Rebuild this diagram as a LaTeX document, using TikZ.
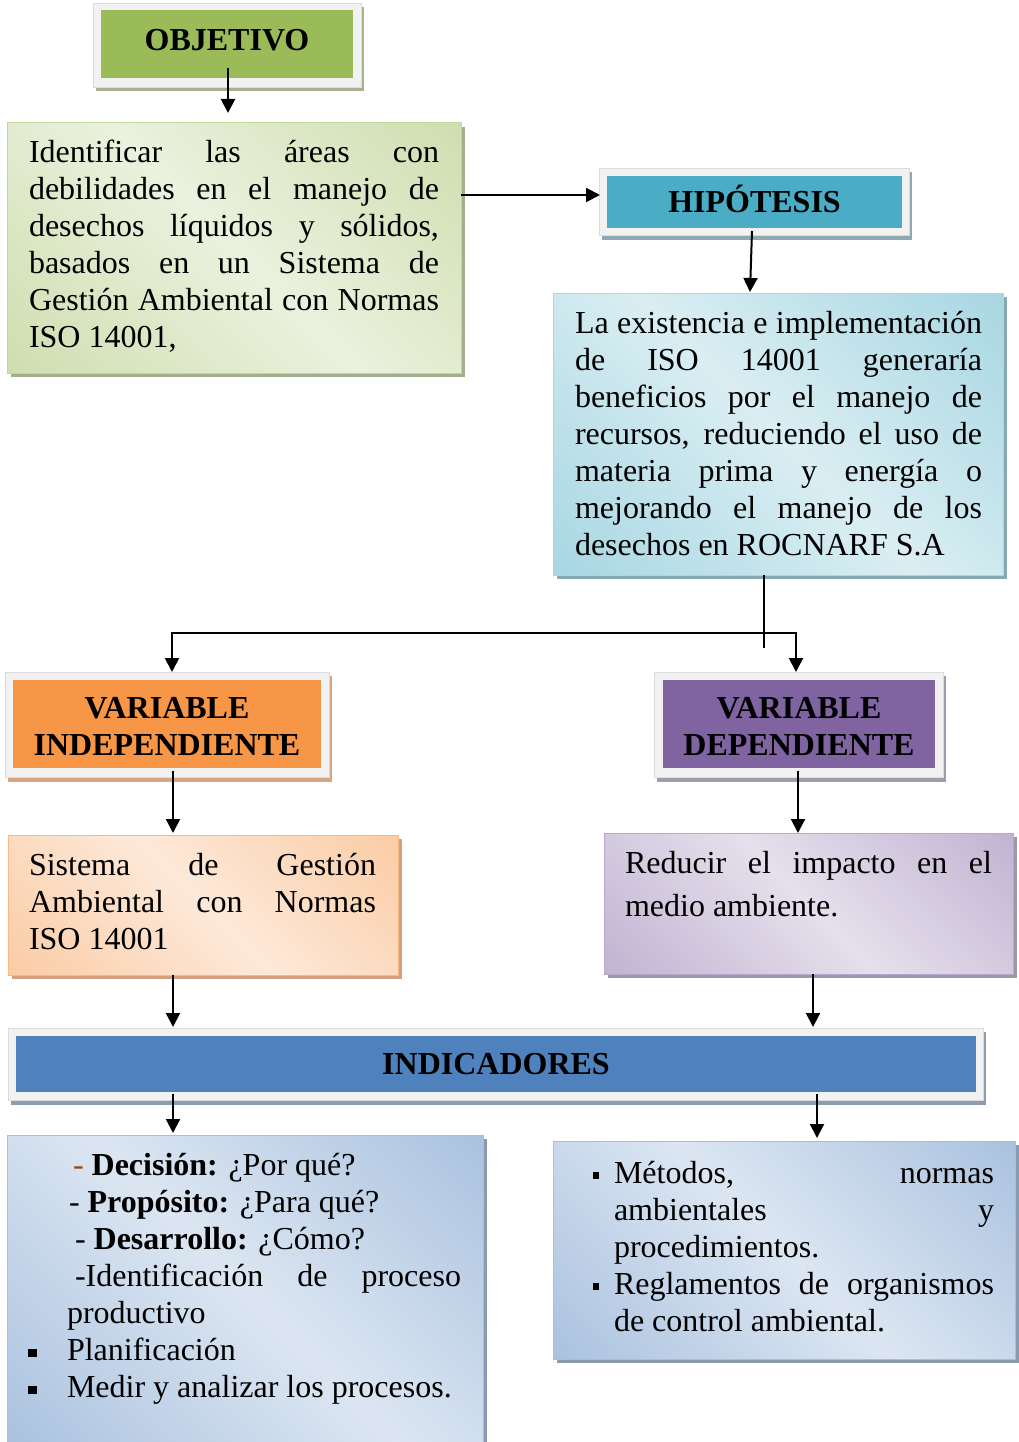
\documentclass[tikz,border=0pt]{standalone}
\usepackage{fontspec}
\setmainfont{Liberation Serif}
\usetikzlibrary{arrows.meta,shadows,calc}
\setlength\parindent{0pt}
\setlength\parskip{0pt}

\definecolor{framefill}{HTML}{F2F2F2}
\definecolor{framedraw}{HTML}{DCDCDC}
\definecolor{hgreen}{HTML}{9BBB59}
\definecolor{hgreensh}{HTML}{A7B38F}
\definecolor{gdk}{HTML}{C3D69B}
\definecolor{glt}{HTML}{EBF1DE}
\definecolor{gborder}{HTML}{C3D69B}
\definecolor{gshadow}{HTML}{A1AF8D}
\definecolor{hblue}{HTML}{4BACC6}
\definecolor{hbluesh}{HTML}{8EA9B2}
\definecolor{bdk}{HTML}{92CDDC}
\definecolor{blt}{HTML}{DAEEF3}
\definecolor{bborder}{HTML}{A9D7E3}
\definecolor{bshadow}{HTML}{86A9B3}
\definecolor{horange}{HTML}{F79646}
\definecolor{horangesh}{HTML}{D6A685}
\definecolor{odk}{HTML}{FAC090}
\definecolor{olt}{HTML}{FDE9D9}
\definecolor{oborder}{HTML}{F9B880}
\definecolor{oshadow}{HTML}{D4A17F}
\definecolor{hpurple}{HTML}{8064A2}
\definecolor{hpurplesh}{HTML}{A19CAD}
\definecolor{pdk}{HTML}{B2A1C7}
\definecolor{plt}{HTML}{E5E0EC}
\definecolor{pborder}{HTML}{B8A8CB}
\definecolor{pshadow}{HTML}{9E97A9}
\definecolor{hind}{HTML}{4F81BD}
\definecolor{hindsh}{HTML}{8D9CB1}
\definecolor{idk}{HTML}{95B3D7}
\definecolor{ilt}{HTML}{DCE6F2}
\definecolor{iborder}{HTML}{A5BFDD}
\definecolor{ishadow}{HTML}{8A9AB0}
\definecolor{dashbrown}{HTML}{984806}

\pgfdeclarehorizontalshading{shgreen}{100bp}{color(0bp)=(gdk); color(50bp)=(glt); color(100bp)=(gdk)}
\pgfdeclarehorizontalshading{shblue}{100bp}{color(0bp)=(bdk); color(50bp)=(blt); color(100bp)=(bdk)}
\pgfdeclarehorizontalshading{shorange}{100bp}{color(0bp)=(odk); color(50bp)=(olt); color(100bp)=(odk)}
\pgfdeclarehorizontalshading{shpurple}{100bp}{color(0bp)=(pdk); color(50bp)=(plt); color(100bp)=(pdk)}
\pgfdeclarehorizontalshading{shind}{100bp}{color(0bp)=(idk); color(50bp)=(ilt); color(100bp)=(idk)}

\newcommand\bodyfont{\fontsize{32}{37}\selectfont}
\newcommand\nsp{\spaceskip=0pt\xspaceskip=0pt\hyphenpenalty=10000\relax}
\newcommand\jl[1]{\makebox[\hsize][s]{#1}}
\newcommand\sqbul{\rule[3pt]{9pt}{8pt}}
\newcommand\smbul{\rule[4pt]{6pt}{7pt}}

\begin{document}
\begin{tikzpicture}[x=1pt,y=-1pt,
  head/.style={rectangle, inner sep=0pt, outer sep=0pt, align=center,
    font=\fontsize{32}{37}\selectfont\bfseries},
  tbox/.style={rectangle, inner sep=0pt, outer sep=0pt, line width=1pt, shade, shading angle=45},
  txt/.style={anchor=north west, inner sep=0pt, outer sep=0pt, align=left, font=\bodyfont},
  frame/.style={fill=framefill, draw=framedraw, line width=0.6pt},
  arr/.style={line width=2pt, -{Triangle[width=14pt,length=14pt]}},
  plain/.style={line width=2pt},
  shad/.style={drop shadow={shadow xshift=4pt,shadow yshift=-4pt,fill=#1,opacity=1}}
]
\useasboundingbox (0,0) rectangle (1019,1442);
\fill[white] (0,0) rectangle (1019,1442);

% heading frames
\fill[hgreensh] (96,7) rectangle (364,91);
\filldraw[frame] (93,3) rectangle (361,87);
\fill[hbluesh] (602,172) rectangle (912,240);
\filldraw[frame] (599,168) rectangle (909,235);
\fill[horangesh] (8,676) rectangle (332,782);
\filldraw[frame] (5,672) rectangle (329,777);
\fill[hpurplesh] (657,676) rectangle (946,782);
\filldraw[frame] (654,672) rectangle (943,777);
\fill[hindsh] (11,1032) rectangle (986,1105);
\filldraw[frame] (8,1028) rectangle (983,1100);

% heading nodes
\node[head, fill=hgreen, minimum width=252pt, minimum height=68pt, text height=21pt, text depth=7pt] (obj) at (227,44) {OBJETIVO};
\node[head, fill=hblue, minimum width=295pt, minimum height=52pt, text height=21pt, text depth=0pt] (hip) at (754.5,202) {HIPÓTESIS};
\node[head, fill=horange, minimum width=308pt, minimum height=88pt] (vi) at (167,724) {\rule{0pt}{27pt}VARIABLE\\INDEPENDIENTE};
\node[head, fill=hpurple, minimum width=272pt, minimum height=88pt] (vd) at (799,724) {\rule{0pt}{27pt}VARIABLE\\DEPENDIENTE};
\node[head, fill=hind, minimum width=960pt, minimum height=56pt] (ind) at (496,1064) {INDICADORES};

% text boxes
\node[tbox, shading=shgreen, draw=gborder, shad=gshadow, minimum width=454pt, minimum height=250pt] (objt) at (234,248) {};
\node[tbox, shading=shblue, draw=bborder, shad=bshadow, minimum width=450pt, minimum height=282pt] (hipt) at (778,434) {};
\node[tbox, shading=shorange, draw=oborder, shad=oshadow, minimum width=390pt, minimum height=140pt] (vit) at (203,905) {};
\node[tbox, shading=shpurple, draw=pborder, shad=pshadow, minimum width=409pt, minimum height=141pt] (vdt) at (808.5,903.5) {};
\node[tbox, shading=shind, draw=iborder, shad=ishadow, minimum width=476pt, minimum height=310pt] (indl) at (245,1290) {};
\node[tbox, shading=shind, draw=iborder, shad=ishadow, minimum width=462pt, minimum height=218pt] (indr) at (784,1250) {};

% texts
\node[txt, text width=410pt] (objtx) at (29,137.1) {\nsp\strut\jl{Identificar las áreas con}\\\jl{debilidades en el manejo de}\\\jl{desechos líquidos y sólidos,}\\\jl{basados en un Sistema de}\\\jl{Gestión Ambiental con Normas}\\ISO 14001,};
\node[txt, text width=407pt] (hiptx) at (575,307.1) {\nsp\strut\jl{La existencia e implementación}\\\jl{de ISO 14001 generaría}\\\jl{beneficios por el manejo de}\\\jl{recursos, reduciendo el uso de}\\\jl{materia prima y energía o}\\\jl{mejorando el manejo de los}\\desechos en ROCNARF S.A};
\node[txt, text width=347pt] (vitx) at (29,849.1) {\nsp\strut\jl{Sistema de Gestión}\\\jl{Ambiental con Normas}\\ISO 14001};
\node[txt, text width=367pt, font=\fontsize{32}{43}\selectfont] (vdtx) at (625,842.9) {\nsp\strut\jl{Reducir el impacto en el}\\medio ambiente.};
\node[txt, text width=400pt] (indltx) at (67,1149.1) {\nsp\strut\hspace*{6pt}\textcolor{dashbrown}{-} \textbf{Decisión:} ¿Por qué?\\
\leavevmode\hspace*{2pt}- \textbf{Propósito:} ¿Para qué?\\
\leavevmode\hspace*{8pt}- \textbf{Desarrollo:} ¿Cómo?\\
\leavevmode\hspace*{8pt}\makebox[\dimexpr 386pt\relax][s]{-Identificación de proceso}\\
productivo\\
\leavevmode\llap{\sqbul\hspace{30pt}}Planificación\\
\leavevmode\llap{\sqbul\hspace{30pt}}Medir y analizar los procesos.};
\node[txt, text width=380pt] (indrtx) at (614,1157.1) {\nsp\strut\llap{\smbul\hspace{15pt}}\jl{Métodos, normas}\\\jl{ambientales y}\\procedimientos.\\\leavevmode\llap{\smbul\hspace{15pt}}\jl{Reglamentos de organismos}\\de control ambiental.};

% connectors
\draw[arr] ($(obj.south)+(1,-10)$) -- ($(objt.north)+(-6,-10)$);
\draw[arr] ($(objt.east |- hip.west)+(0,-7)$) -- ($(hip.west)+(-7,-7)$);
\draw[arr] ($(hip.south)+(-2.5,3)$) -- ($(hipt.north)+(-28,-1)$);
\coordinate (split) at ($(hipt.south)+(-14,58)$);
\draw[plain] ($(hipt.south)+(-14,0)$) -- ($(split)+(0,15)$);
\draw[arr] (split) -| ($(vi.north)+(5,-8)$);
\draw[arr] (split) -| ($(vd.north)+(-3,-8)$);
\draw[arr] ($(vi.south)+(6,3)$) -- ($(vi.south |- vit.north)+(6,-2)$);
\draw[arr] ($(vd.south)+(-1,3)$) -- ($(vd.south |- vdt.north)+(-1,0)$);
\draw[arr] ($(vit.south)+(-30,0)$) -- ($(vit.south |- ind.north)+(-30,-9)$);
\draw[arr] ($(vdt.south)+(4.5,0)$) -- ($(vdt.south |- ind.north)+(4.5,-9)$);
\draw[arr] ($(indl.north |- ind.south)+(-72,2)$) -- ($(indl.north)+(-72,-2)$);
\draw[arr] ($(indr.north |- ind.south)+(33,2)$) -- ($(indr.north)+(33,-3)$);
\end{tikzpicture}
\end{document}
